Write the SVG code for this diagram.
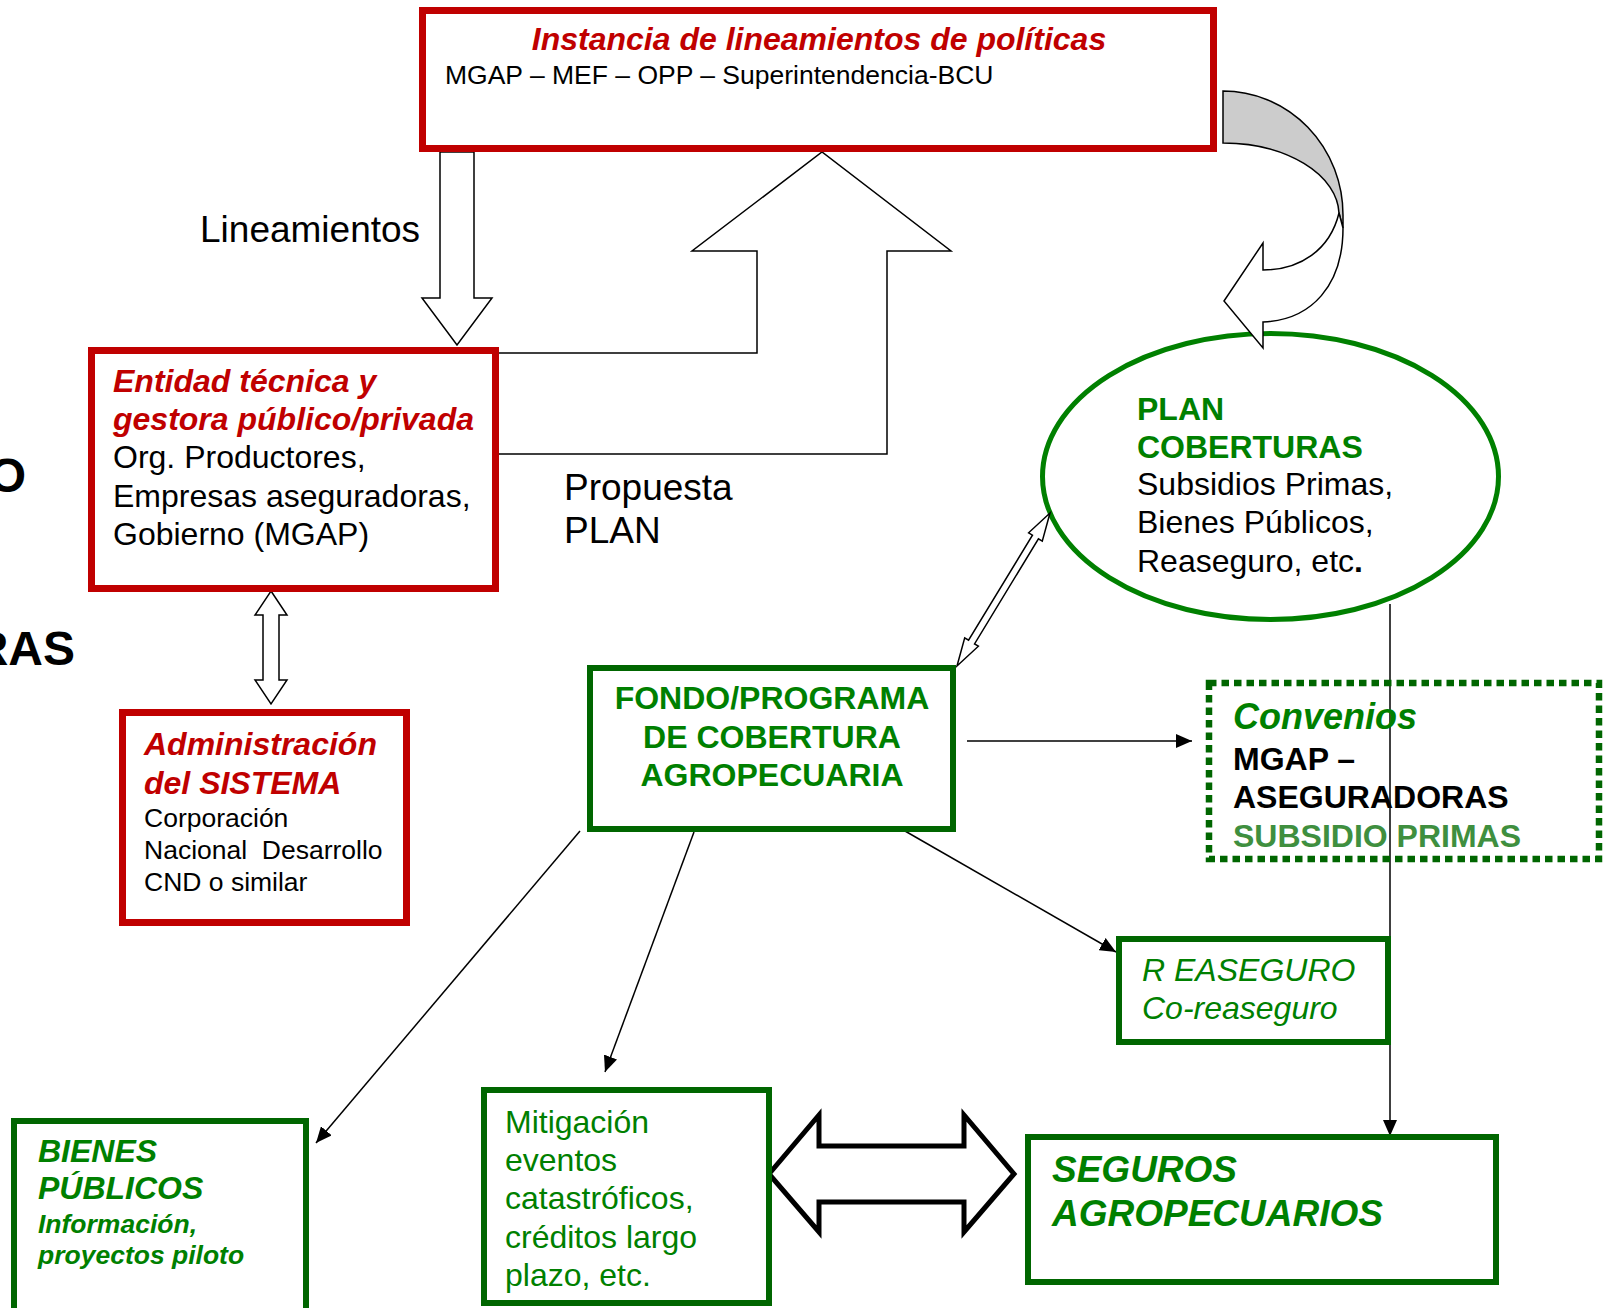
<svg xmlns="http://www.w3.org/2000/svg" width="1613" height="1308" viewBox="0 0 1613 1308">
<defs>
<style>
text{font-family:"Liberation Sans",Arial,sans-serif}
.red{fill:#C00000}
.grn{fill:#008000}
.blk{fill:#000}
.bi{font-weight:bold;font-style:italic}
.b{font-weight:bold}
.i{font-style:italic}
.s32{font-size:32px}
.s26{font-size:26.5px}
.s37{font-size:37px}
.rbox{fill:#fff;stroke:#C00000;stroke-width:7}
.gbox{fill:#fff;stroke:#006600;stroke-width:6}
.conn{fill:none;stroke:#000;stroke-width:1.5}
.blk-arrow{fill:#fff;stroke:#000;stroke-width:1.5;stroke-linejoin:miter}
</style>
<marker id="ah" markerUnits="userSpaceOnUse" markerWidth="16" markerHeight="14" refX="16" refY="7" orient="auto">
<path d="M0,0 L16,7 L0,14 Z" fill="#000"/>
</marker>
</defs>
<rect width="1613" height="1308" fill="#fff"/>

<g id="fragments">
<text x="26" y="492" text-anchor="end" class="b blk" font-size="48">O</text>
<text x="75" y="665" text-anchor="end" class="b blk" font-size="48">RAS</text>
</g>

<g id="node-plan">
<ellipse cx="1270.5" cy="476.5" rx="228" ry="143" fill="none" stroke="#008000" stroke-width="5"/>
<text x="1137" y="420" class="grn b s32">PLAN</text>
<text x="1137" y="458" class="grn b s32">COBERTURAS</text>
<text x="1137" y="495" class="blk s32">Subsidios Primas,</text>
<text x="1137" y="533" class="blk s32">Bienes Públicos,</text>
<text x="1137" y="572" class="blk s32">Reaseguro, etc<tspan class="b">.</tspan></text>
</g>

<g id="connectors">
<polygon class="blk-arrow" points="440,152 440,298 422,298 457,345 492,298 474,298 474,152"/>
<polyline class="blk-arrow" fill="#fff" points="498,353 757,353 757,251 692,251 822,152 951,251 887,251 887,454 498,454"/>
<path d="M1223,91 A120,124 0 0 1 1343,215 L1343,228 L1339,213 A116,72 0 0 0 1223,143 Z" fill="#cccccc" stroke="#000" stroke-width="1.5"/>
<path d="M1339,213 C1330,250 1300,270 1263,270 L1263,243 L1224,301 L1263,348 L1263,322 C1312,320 1343,285 1343,228 Z" fill="#fff" stroke="#000" stroke-width="1.5" stroke-linejoin="miter"/>
<polygon class="blk-arrow" points="271,591 287,615 279,615 279,680 287,680 271,704 255,680 263,680 263,615 255,615"/>
<polygon class="blk-arrow" transform="translate(957,666) rotate(-58.7)" points="0,0 28,-8 28,-3.5 151,-3.5 151,-8 179,0 151,8 151,3.5 28,3.5 28,8"/>
<line class="conn" x1="967" y1="741" x2="1192" y2="741" marker-end="url(#ah)"/>
<line class="conn" x1="905" y1="831" x2="1116" y2="952" marker-end="url(#ah)"/>
<line class="conn" x1="580" y1="831" x2="316" y2="1143" marker-end="url(#ah)"/>
<line class="conn" x1="694" y1="832" x2="605" y2="1072" marker-end="url(#ah)"/>
<line class="conn" x1="1390" y1="604" x2="1390" y2="1136" marker-end="url(#ah)"/>
<polygon points="769,1174 819,1115 819,1146 964,1146 964,1115 1014,1174 964,1232 964,1202 819,1202 819,1232" fill="#fff" stroke="#000" stroke-width="5" stroke-linejoin="miter"/>
</g>

<g id="labels">
<text x="200" y="242" class="blk s37">Lineamientos</text>
<text x="564" y="500" class="blk s37">Propuesta</text>
<text x="564" y="543" class="blk s37">PLAN</text>
</g>

<g id="node-instancia">
<rect class="rbox" x="422.5" y="10.5" width="791" height="138"/>
<text x="819" y="50" text-anchor="middle" class="red bi s32">Instancia de lineamientos de políticas</text>
<text x="445" y="84" class="blk s26">MGAP – MEF – OPP – Superintendencia-BCU</text>
</g>

<g id="node-entidad">
<rect class="rbox" x="91.5" y="350.5" width="404" height="238"/>
<text x="113" y="392" class="red bi s32">Entidad técnica y</text>
<text x="113" y="430" class="red bi s32">gestora público/privada</text>
<text x="113" y="468" class="blk s32">Org. Productores,</text>
<text x="113" y="507" class="blk s32">Empresas aseguradoras,</text>
<text x="113" y="545" class="blk s32">Gobierno (MGAP)</text>
</g>

<g id="node-admin">
<rect class="rbox" x="122.5" y="712.5" width="284" height="210"/>
<text x="144" y="755" class="red bi s32">Administración</text>
<text x="144" y="794" class="red bi s32">del SISTEMA</text>
<text x="144" y="827" class="blk s26">Corporación</text>
<text x="144" y="859" class="blk s26" xml:space="preserve">Nacional  Desarrollo</text>
<text x="144" y="891" class="blk s26">CND o similar</text>
</g>

<g id="node-fondo">
<rect class="gbox" x="590" y="668" width="363" height="161"/>
<text x="772" y="709" text-anchor="middle" class="grn b s32">FONDO/PROGRAMA</text>
<text x="772" y="748" text-anchor="middle" class="grn b s32">DE COBERTURA</text>
<text x="772" y="786" text-anchor="middle" class="grn b s32">AGROPECUARIA</text>
</g>

<g id="node-convenios">
<rect x="1209" y="683" width="390" height="176" fill="none" stroke="#006600" stroke-width="6.5" stroke-dasharray="7.5 5"/>
<text x="1233" y="729" class="grn bi" font-size="36">Convenios</text>
<text x="1233" y="770" class="blk b s32">MGAP –</text>
<text x="1233" y="808" class="blk b s32">ASEGURADORAS</text>
<text x="1233" y="847" class="b s32" fill="#3f8f3f">SUBSIDIO PRIMAS</text>
</g>

<g id="node-reaseguro">
<rect class="gbox" x="1119" y="939" width="269" height="103"/>
<text x="1142" y="981" class="grn i s32">R EASEGURO</text>
<text x="1142" y="1019" class="grn i s32">Co-reaseguro</text>
</g>

<g id="node-bienes">
<rect class="gbox" x="14" y="1121" width="292" height="200"/>
<text x="38" y="1162" class="grn bi s32">BIENES</text>
<text x="38" y="1199" class="grn bi s32">PÚBLICOS</text>
<text x="38" y="1233" class="grn bi s26">Información,</text>
<text x="38" y="1264" class="grn bi s26">proyectos piloto</text>
</g>

<g id="node-mitigacion">
<rect class="gbox" x="484" y="1090" width="285" height="213"/>
<text x="505" y="1133" class="grn s32">Mitigación</text>
<text x="505" y="1171" class="grn s32">eventos</text>
<text x="505" y="1209" class="grn s32">catastróficos,</text>
<text x="505" y="1248" class="grn s32">créditos largo</text>
<text x="505" y="1286" class="grn s32">plazo, etc.</text>
</g>

<g id="node-seguros">
<rect class="gbox" x="1028" y="1137" width="468" height="145"/>
<text x="1052" y="1182" class="grn bi s37">SEGUROS</text>
<text x="1052" y="1226" class="grn bi s37">AGROPECUARIOS</text>
</g>
</svg>
